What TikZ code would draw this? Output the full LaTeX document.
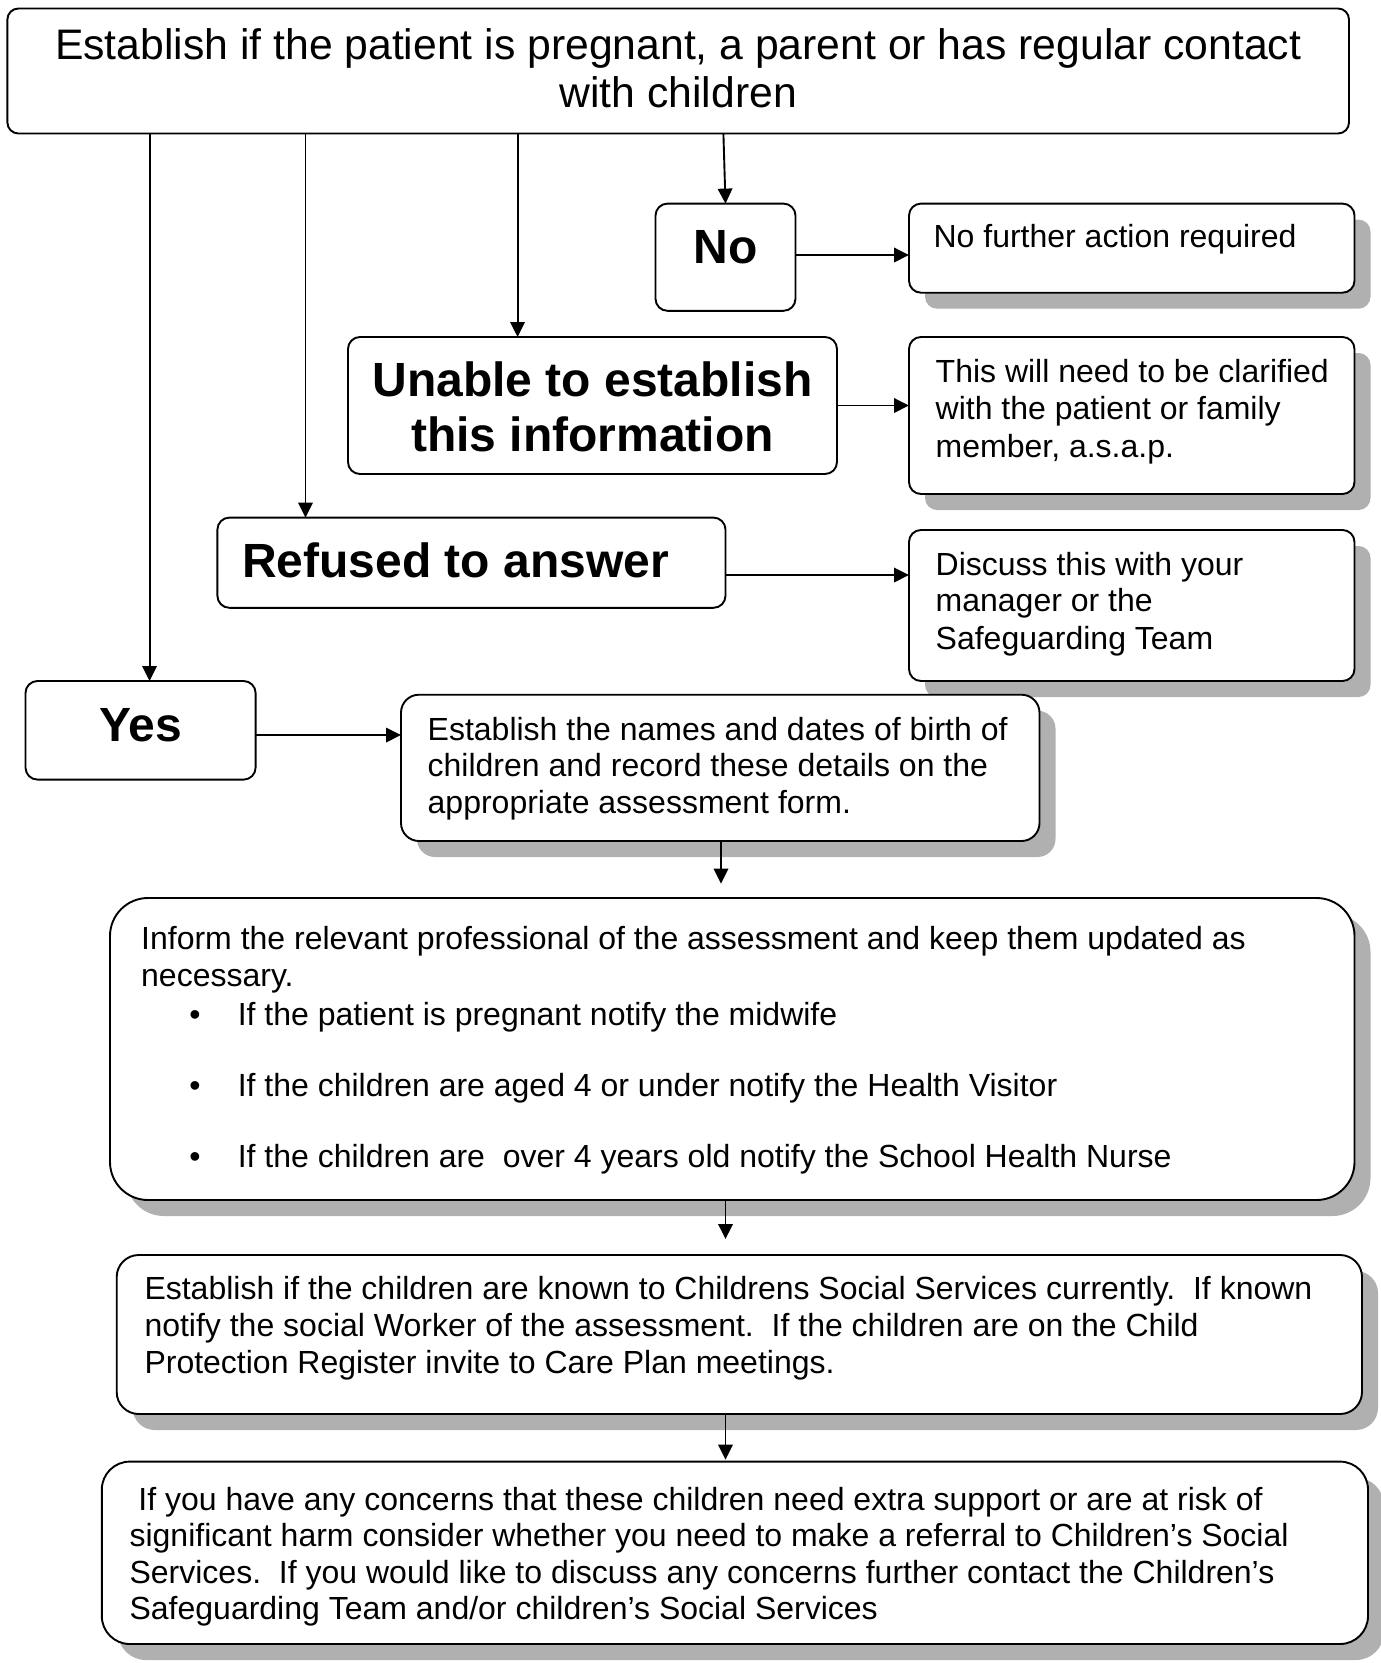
\documentclass[tikz,border=0pt]{standalone}
\usepackage{fontspec}
\setmainfont{Liberation Sans}
\usetikzlibrary{arrows.meta,shadows}
\begin{document}
\begin{tikzpicture}[x=1pt,y=-1pt,
  box/.style={draw=black, line width=1.9pt, fill=white, rounded corners=#1, inner sep=0pt, outer sep=0pt},
  box/.default=12pt,
  shad/.style={drop shadow={shadow xshift=16pt, shadow yshift=-16pt, fill=black!31, opacity=1, draw=none}},
  txt/.style={anchor=base west, inner sep=0pt, font=\fontsize{32}{37}\selectfont},
  big/.style={anchor=base, inner sep=0pt, font=\fontsize{48}{55}\selectfont\bfseries},
  ttl/.style={anchor=base, inner sep=0pt, font=\fontsize{42.7}{48}\selectfont},
  arr/.style={-{Triangle[length=15pt,width=14.5pt]}, line width=1.9pt}]
\useasboundingbox (0,0) rectangle (1381,1663);
\fill[white] (0,0) rectangle (1381,1663);

% boxes
\node[box=11pt] (top) at (678.2,71) [minimum width=1341.6pt, minimum height=125pt] {};
\node[box] (no) at (725.5,257.2) [minimum width=140pt, minimum height=107.2pt] {};
\node[box,shad] (nofurther) at (1131.75,248.15) [minimum width=445.5pt, minimum height=89.1pt] {};
\node[box] (unable) at (592.5,405.5) [minimum width=489pt, minimum height=137pt] {};
\node[box,shad] (clarify) at (1131.75,415.5) [minimum width=445.5pt, minimum height=157pt] {};
\node[box] (refused) at (471.45,562.7) [minimum width=508.1pt, minimum height=90.2pt] {};
\node[box,shad] (discuss) at (1131.75,605.5) [minimum width=445.5pt, minimum height=151pt] {};
\node[box] (yes) at (140.55,730.3) [minimum width=230.1pt, minimum height=98.6pt] {};
\node[box=18pt,shad] (names) at (720.25,767.85) [minimum width=638.5pt, minimum height=146.3pt] {};
\node[box=38pt,shad] (inform) at (732.25,1049) [minimum width=1244.5pt, minimum height=302pt] {};
\node[box=22pt,shad] (children) at (739.35,1334.5) [minimum width=1245.3pt, minimum height=159pt] {};
\node[box=28pt,shad] (concerns) at (734.9,1552.8) [minimum width=1266.2pt, minimum height=182.4pt] {};

% texts
\node[ttl] (t1a) at (678.2,59) {Establish if the patient is pregnant, a parent or has regular contact};
\node[ttl] (t1b) at (678.2,107) {with children};
\node[big] (tno) at (725.5,263) {No};
\node[txt] (tnf) at (933.4,247) {No further action required};
\node[big] (tun1) at (592.5,396) {Unable to establish};
\node[big] (tun2) at (592.5,451) {this information};
\node[txt] (tc1) at (935.5,382.7) {This will need to be clarified};
\node[txt] (tc2) at (935.5,419.9) {with the patient or family};
\node[txt] (tc3) at (935.5,457) {member, a.s.a.p.};
\node[big,anchor=base west] (tref) at (242,577) {Refused to answer};
\node[txt] (td1) at (935.5,575.8) {Discuss this with your};
\node[txt] (td2) at (935.5,611.9) {manager or the};
\node[txt] (td3) at (935.5,649) {Safeguarding Team};
\node[big] (tyes) at (141,741.7) {Yes};
\node[txt] (tn1) at (427.5,740.2) {Establish the names and dates of birth of};
\node[txt] (tn2) at (427.5,776.3) {children and record these details on the};
\node[txt] (tn3) at (427.5,813.4) {appropriate assessment form.};
\node[txt] (ti1) at (141,949.2) {Inform the relevant professional of the assessment and keep them updated as};
\node[txt] (ti2) at (141,986.3) {necessary.};
\node[txt,anchor=base] (b1) at (195,1025.5) {•};
\node[txt] (ti3) at (237.6,1025.5) {If the patient is pregnant notify the midwife};
\node[txt,anchor=base] (b2) at (195,1096.6) {•};
\node[txt] (ti4) at (237.6,1096.6) {If the children are aged 4 or under notify the Health Visitor};
\node[txt,anchor=base] (b3) at (195,1167.7) {•};
\node[txt] (ti5) at (237.6,1167.7) {If the children are\ \ over 4 years old notify the School Health Nurse};
\node[txt] (tk1) at (144.3,1299.2) {Establish if the children are known to Childrens Social Services currently.\ \ If known};
\node[txt] (tk2) at (144.3,1336.3) {notify the social Worker of the assessment.\ \ If the children are on the Child};
\node[txt] (tk3) at (144.3,1373.5) {Protection Register invite to Care Plan meetings.};
\node[txt] (tq1) at (129.4,1510.3) {\ If you have any concerns that these children need extra support or are at risk of};
\node[txt] (tq2) at (129.4,1546.3) {significant harm consider whether you need to make a referral to Children’s Social};
\node[txt] (tq3) at (129.4,1583.5) {Services.\ \ If you would like to discuss any concerns further contact the Children’s};
\node[txt] (tq4) at (129.4,1619.5) {Safeguarding Team and/or children’s Social Services};

% connector helper coordinates
\coordinate (x1) at (149.6,0);
\coordinate (x2) at (305.5,0);
\coordinate (x3) at (517.6,0);
\coordinate (x4) at (723.4,0);
\coordinate (y5) at (0,255);
\coordinate (y7) at (0,575);
\coordinate (y8) at (0,735);
\coordinate (x9) at (721,0);
\coordinate (x10) at (725.5,0);
\coordinate (e9) at (721,883.6);
\coordinate (e10) at (725.5,1239);

\draw[arr] (top.south -| x1) -- (yes.north -| x1);
\draw[arr] (top.south -| x2) -- (refused.north -| x2);
\draw[arr] (top.south -| x3) -- (unable.north -| x3);
\draw[arr] (top.south -| x4) -- (no.north);
\draw[arr] (no.east |- y5) -- (nofurther.west |- y5);
\draw[arr] (unable.east) -- (clarify.west |- unable.east);
\draw[arr] (refused.east |- y7) -- (discuss.west |- y7);
\draw[arr] (yes.east |- y8) -- (names.west |- y8);
\draw[arr] (names.south -| x9) -- (e9);
\draw[arr] (inform.south -| x10) -- (e10);
\draw[arr] (children.south -| x10) -- ([yshift=2pt]concerns.north -| x10);
\end{tikzpicture}
\end{document}
